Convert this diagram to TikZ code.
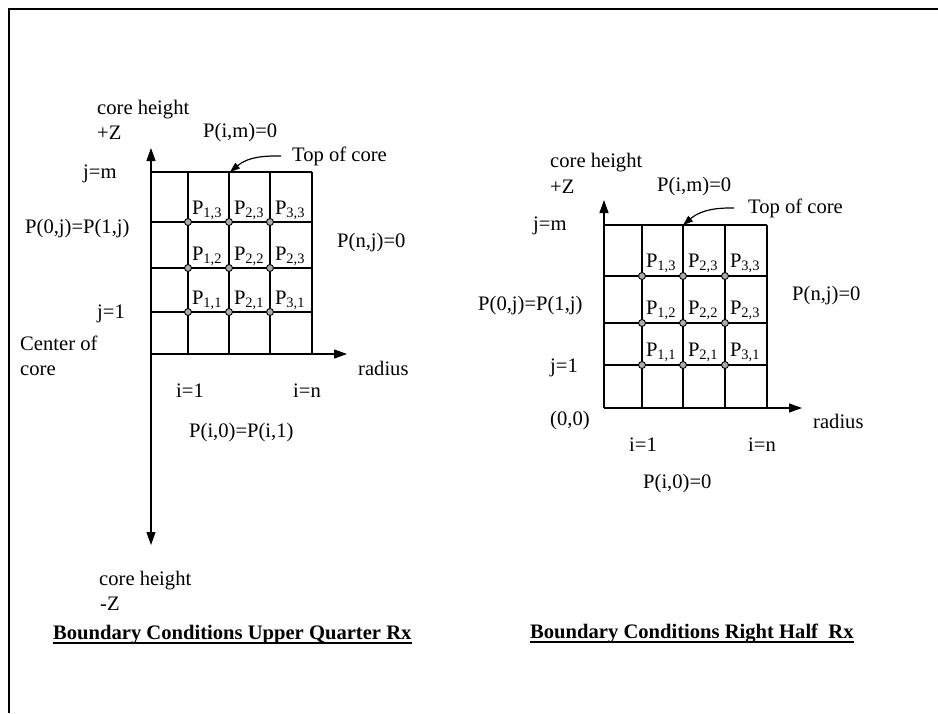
\documentclass[tikz,border=0pt]{standalone}
\usepackage{fontspec}
\setmainfont{Liberation Serif}
\usetikzlibrary{arrows.meta}

\begin{document}
\begin{tikzpicture}[x=1pt, y=-1pt,
  font=\fontsize{20.6}{24}\selectfont,
  >={Triangle[length=13pt, width=9pt]},
  lbl/.style={anchor=base west, inner sep=0pt},
  cell/.style={anchor=base, inner sep=0pt},
  grid/.style={line width=1.2pt},
  axis/.style={line width=1.2pt},
  bent/.style={line width=1.2pt, -{Triangle[length=10pt, width=7pt]}},
  knot/.style={circle, draw, line width=0.9pt, fill=gray!65, inner sep=0pt, minimum size=7pt},
  title/.style={anchor=base west, inner sep=0pt, font=\fontsize{20.6}{24}\selectfont\bfseries},
  uline/.style={line width=1.6pt}]
\useasboundingbox (0,0) rectangle (938,713);
\draw[line width=1.2pt] (9,713) -- (9,9) -- (938,9);

% upper quarter
\foreach \x in {151,188,229,270,312} \draw[grid] (\x,172) -- (\x,354);
\foreach \y in {172,222,268,312,354} \draw[grid] (151,\y) -- (312,\y);
\draw[line width=2.6pt] (290,354) -- (312,354);
\foreach \x/\i in {188/1,229/2,270/3}
  \foreach \y/\j in {222/3,268/2,312/1}
    \node[knot] (L\i\j) at (\x,\y) {};
\foreach \x/\y/\s in {207/214/{1,3},249/214/{2,3},290/214/{3,3},
                      207/260/{1,2},249/260/{2,2},290/260/{2,3},
                      207/304/{1,1},249/304/{2,1},290/304/{3,1}}
  \node[cell] at (\x,\y) {P\textsubscript{\s}};
\coordinate (Lorig) at (151,354);
\coordinate (Ltop) at (151,148);
\coordinate (Lbot) at (151,545);
\coordinate (Lrad) at (347,354);
\coordinate (Ltip) at (230,172);
\draw[axis, <->] (Ltop) -- (Lbot);
\draw[axis, ->] (Lorig) -- (Lrad);
\node[lbl] (Lch) at (97,114) {core height};
\node[lbl] (Lpz) at (97,139) {+Z};
\node[lbl] (Lpim) at (203,137) {P(i,m)=0};
\node[lbl] (Ltoc) at (292,161) {Top of core};
\node[lbl] (Ljm) at (83,178) {j=m};
\node[lbl] (Lp0j) at (25,233) {P(0,j)=P(1,j)};
\node[lbl] (Lpnj) at (337,247) {P(n,j)=0};
\node[lbl] (Lj1) at (97,318) {j=1};
\node[lbl] (Lcen) at (20,350) {Center of};
\node[lbl] (Lcore) at (20,375) {core};
\node[lbl] (Lradius) at (358,375) {radius};
\node[lbl] (Li1) at (176,397) {i=1};
\node[lbl] (Lin) at (293,397) {i=n};
\node[lbl] (Lpi0) at (189,437) {P(i,0)=P(i,1)};
\node[lbl] (Lchm) at (99,585) {core height};
\node[lbl] (Lmz) at (100,610) {-Z};
\node[title] (Ltitle) at (53,639) {Boundary Conditions Upper Quarter Rx};
\draw[uline] ([yshift=-4pt]Ltitle.base west) -- ([yshift=-4pt]Ltitle.base east);
\draw[bent, shorten <=11pt] (Ltoc.west) to[out=180, in=40] (Ltip);

% right half
\foreach \x in {604,642,683,725,767} \draw[grid] (\x,225) -- (\x,408);
\foreach \y in {225,276,323,365,408} \draw[grid] (604,\y) -- (767,\y);
\draw[line width=2.6pt] (745,408) -- (767,408);
\foreach \x/\i in {642/1,683/2,725/3}
  \foreach \y/\j in {276/3,323/2,365/1}
    \node[knot] (R\i\j) at (\x,\y) {};
\foreach \x/\y/\s in {661/267/{1,3},703/267/{2,3},745/267/{3,3},
                      661/314/{1,2},703/314/{2,2},745/314/{2,3},
                      661/356/{1,1},703/356/{2,1},745/356/{3,1}}
  \node[cell] at (\x,\y) {P\textsubscript{\s}};
\coordinate (Rorig) at (604,408);
\coordinate (Rtop) at (604,200);
\coordinate (Rrad) at (802,408);
\coordinate (Rtip) at (683,225);
\draw[axis, ->] (Rorig) -- (Rtop);
\draw[axis, ->] (Rorig) -- (Rrad);
\node[lbl] (Rch) at (550,167) {core height};
\node[lbl] (Rpz) at (550,193) {+Z};
\node[lbl] (Rpim) at (657,191) {P(i,m)=0};
\node[lbl] (Rtoc) at (748,213) {Top of core};
\node[lbl] (Rjm) at (533,230) {j=m};
\node[lbl] (Rp0j) at (478,310) {P(0,j)=P(1,j)};
\node[lbl] (Rpnj) at (792,300) {P(n,j)=0};
\node[lbl] (Rj1) at (550,372) {j=1};
\node[lbl] (R00) at (550,425) {(0,0)};
\node[lbl] (Rradius) at (813,428) {radius};
\node[lbl] (Ri1) at (629,451) {i=1};
\node[lbl] (Rin) at (748,451) {i=n};
\node[lbl] (Rpi0) at (643,488) {P(i,0)=0};
\node[title] (Rtitle) at (530,638) {Boundary Conditions Right Half\ \ Rx};
\draw[uline] ([yshift=-4pt]Rtitle.base west) -- ([yshift=-4pt]Rtitle.base east);
\draw[bent, shorten <=14pt] (Rtoc.west) to[out=180, in=40] (Rtip);
\end{tikzpicture}
\end{document}
